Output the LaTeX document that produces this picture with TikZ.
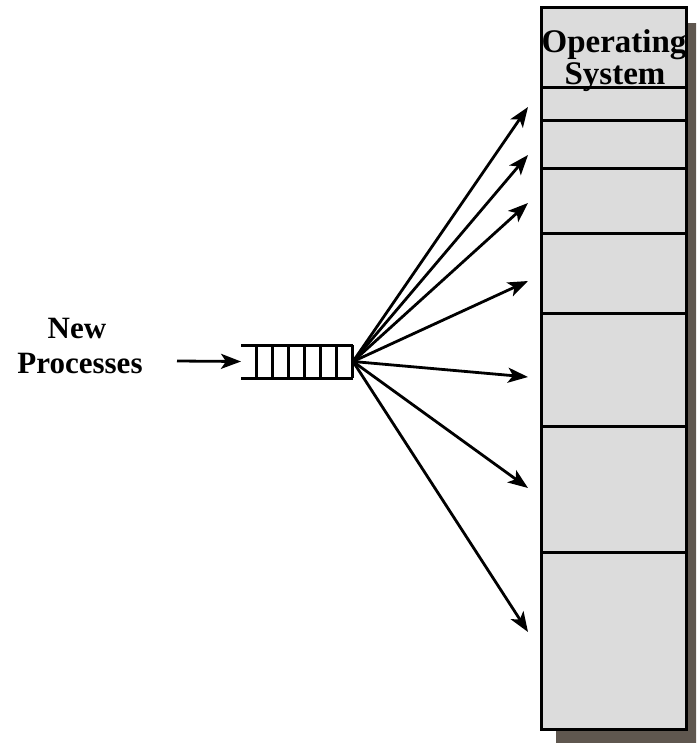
\documentclass[tikz,border=0pt]{standalone}
\usepackage{fontspec}
\setmainfont{Liberation Serif}
\usetikzlibrary{arrows.meta}
\definecolor{memgray}{HTML}{DCDCDC}
\definecolor{shadowbrown}{HTML}{5F574F}
\begin{document}
\begin{tikzpicture}[x=1pt,y=-1pt,
  bigtext/.style={font=\fontsize{31}{35}\selectfont\bfseries, inner sep=0pt, anchor=base},
  ostext/.style={font=\fontsize{33}{35}\selectfont\bfseries, inner sep=0pt, anchor=base},
  edge/.style={line width=3pt},
  feed/.style={line width=2.8pt, -{Stealth[length=20pt,width=15pt,inset=5pt]}},
  memcol/.style={rectangle, inner sep=0pt, outer sep=0pt, minimum width=145pt, minimum height=721pt, anchor=north west},
  qbox/.style={rectangle, inner sep=0pt, outer sep=0pt, minimum width=112pt, minimum height=33pt, anchor=north west}]
\useasboundingbox (0,0) rectangle (696,743);
\clip (0,0) rectangle (696,743);

% drop shadow of the memory column
\fill[shadowbrown] (556,23) rectangle (705,750);

% memory column
\node[memcol, fill=memgray] (mem) at (541,8) {};
\foreach \yy in {88,121,169,233,313,426,552}
  \draw[edge] (541,\yy) -- (686,\yy);
\draw[edge] (mem.north west) rectangle (mem.south east);

% OS label
\node[ostext] (os1) at (614,53) {Operating};
\node[ostext] (os2) at (615,85) {System};

% incoming label
\node[bigtext] (new1) at (77,338) {New};
\node[bigtext] (new2) at (80,373) {Processes};

% queue (open on the left)
\node[qbox] (queue) at (241,345) {};
\draw[edge] (queue.north west) -- (queue.north east);
\draw[edge] (queue.south west) -- (queue.south east);
\foreach \k in {0,...,6}
  \draw[edge] ([xshift={15+16*\k}]queue.north west) -- ([xshift={15+16*\k}]queue.south west);

% arrow into the queue
\coordinate (inStart) at (177,361);
\draw[feed] (inStart) -- (queue.west);

% arrows from the queue into the partitions
\coordinate (t1) at (528,107);
\coordinate (t2) at (528,155);
\coordinate (t3) at (528,203);
\coordinate (t4) at (528,281);
\coordinate (t5) at (528,377);
\coordinate (t6) at (528,488);
\coordinate (t7) at (528,632);
\foreach \t in {t1,t2,t3,t4,t5,t6,t7}
  \draw[feed] (queue.east) -- (\t);
\end{tikzpicture}
\end{document}
